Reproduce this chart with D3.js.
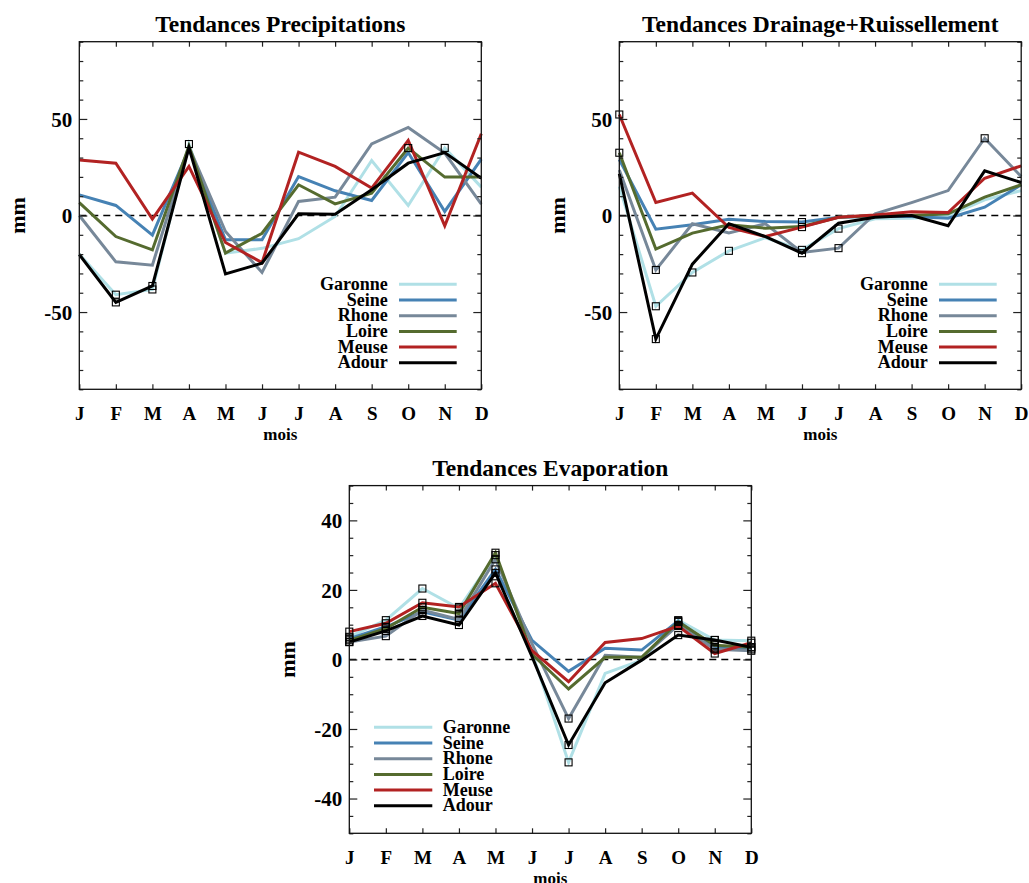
<!DOCTYPE html>
<html><head><meta charset="utf-8">
<script src="https://cdn.jsdelivr.net/npm/d3@7"></script>
<style>
html,body{margin:0;padding:0;background:#fff;}
svg text{font-family:"Liberation Serif","Times New Roman",serif;font-weight:bold;fill:#000;}
</style></head>
<body><svg id="c" width="1029" height="883"></svg>
<script>
const months = ["J","F","M","A","M","J","J","A","S","O","N","D"];
const rivers = ["Garonne","Seine","Rhone","Loire","Meuse","Adour"];
const riverColors = ["#b0e0e6","#4682b4","#778899","#556b2f","#b22222","#000000"];

// Precipitations (mm)
const precipGaronne = [-20, -41, -38.3, 37, -19.5, -17, -12, -0.5, 28.5, 5.2, 35, 14.7];
const precipSeine   = [10.7, 5.2, -10.2, 34.5, -12.6, -12.6, 20.2, 12.8, 7.8, 32.6, 2.1, 29.2];
const precipRhone   = [0, -24, -25.7, 35.5, -8.3, -29.5, 7.3, 9.5, 37.1, 45.6, 32.3, 5.9];
const precipLoire   = [6.7, -10.9, -17.8, 36, -19.5, -9.2, 15.9, 6, 11.6, 34.9, 19.9, 19.9];
const precipMeuse   = [28.8, 27.1, -1.9, 25.4, -14, -24.4, 32.8, 25.4, 14.2, 38.9, -5.4, 42.3];
const precipAdour   = [-20.2, -45, -36.5, 35.2, -30.2, -24.7, 0.9, 0.7, 13.3, 27.1, 32.6, 19.3];
const precipMarks   = [[0,1],[0,2],[0,3],[0,10],[5,1],[5,2],[3,9]];

// Drainage + Ruissellement (mm)
const drainGaronne = [15, -47, -29.5, -18.3, -11.5, -17.8, -6.8, -1.7, -1.4, -0.2, 8.1, 12.9];
const drainSeine   = [29, -7.1, -4.8, -1.9, -3.1, -3.4, -0.9, -0.5, -0.5, -1.4, 4.3, 15.9];
const drainRhone   = [23.6, -28.2, -4.3, -9.1, -4.3, -19.1, -16.9, 0.9, 6.7, 12.9, 40, 20.2];
const drainLoire   = [32.5, -17.4, -9.1, -4.8, -6.6, -5.7, -0.9, 0, 0, 0.9, 9.5, 15.9];
const drainMeuse   = [52.3, 6.7, 11.6, -6.2, -10.9, -6, -0.9, 0.3, 2, 1.5, 19.3, 25.7];
const drainAdour   = [21.6, -64, -25.2, -4.3, -10.9, -19.5, -4, -0.9, 0, -5.3, 23.1, 17.1];
const drainMarks   = [[4,0],[3,0],[2,1],[0,1],[5,1],[0,2],[0,3],[1,5],[4,5],[0,5],[5,5],[0,6],[2,6],[2,10]];

// Evaporation (mm)
const evapGaronne = [6.5, 11.3, 20.4, 14.7, 30, 2, -29.6, -4, -0.2, 11.3, 5.6, 5.4];
const evapSeine   = [6, 9.4, 13.7, 11.3, 25.9, 5.5, -3.4, 3.2, 2.7, 11.1, 3.2, 2.9];
const evapRhone   = [5, 6.7, 14.2, 11.5, 28.8, 4.5, -17, 1.2, 0.6, 9.9, 2.9, 2.5];
const evapLoire   = [5.5, 8.9, 15, 13.2, 30.7, 1.5, -8.5, 0.6, 0.6, 10.8, 4.1, 3.5];
const evapMeuse   = [8, 10.4, 16.3, 15.1, 21.9, 2.5, -6.4, 4.9, 6, 9.6, 1.7, 4.8];
const evapAdour   = [5, 8.2, 12.5, 9.9, 24.9, 0.8, -24.6, -6.7, -0.2, 7, 5.6, 3.5];
const evapMarkMonths = [0,1,2,3,4,9,10,11];
const evapMarksExtra = [[0,6],[2,6],[5,6]];

const titles = ["Tendances Precipitations","Tendances Drainage+Ruissellement","Tendances Evaporation"];
const xLabel = "mois", yLabel = "mm";

const evapMarks = [];
rivers.forEach((r,si)=>evapMarkMonths.forEach(m=>evapMarks.push([si,m])));
evapMarksExtra.forEach(d=>evapMarks.push(d));

const svg = d3.select("#c");
const FONT = '"Liberation Serif","Times New Roman",serif';

function panel(cfg){
  const g = svg.append("g");
  const x = d3.scaleLinear().domain([0,11]).range([cfg.left,cfg.right]);
  const y = d3.scaleLinear().domain(cfg.yDomain).range([cfg.bottom,cfg.top]);
  const majors = cfg.majors;
  const minors = d3.range(cfg.yDomain[0], cfg.yDomain[1]+0.001, cfg.minorStep).filter(v=>!majors.includes(v));

  g.append("line").attr("x1",x(0)).attr("x2",x(11)).attr("y1",y(0)).attr("y2",y(0))
    .attr("stroke","#000").attr("stroke-width",1.5).attr("stroke-dasharray","7,5");

  const line = d3.line().x((d,i)=>x(i)).y(d=>y(d));
  cfg.series.forEach((s,si)=>{
    g.append("path").attr("d",line(s)).attr("fill","none")
      .attr("stroke",riverColors[si]).attr("stroke-width",3).attr("stroke-linejoin","miter");
  });
  cfg.marks.forEach(([si,m])=>{
    const v = cfg.series[si][m];
    g.append("rect").attr("x",x(m)-3.5).attr("y",y(v)-3.5).attr("width",7).attr("height",7)
      .attr("fill","none").attr("stroke","#000").attr("stroke-width",1.1);
  });

  const styleAxis = sel => { sel.select(".domain").remove(); sel.selectAll("line").attr("stroke","#222").attr("stroke-width",1.2); };
  const yl = g.append("g").attr("transform",`translate(${cfg.left},0)`)
    .call(d3.axisLeft(y).tickValues(majors).tickSize(-8).tickPadding(7).tickFormat(d=>String(d)));
  styleAxis(yl);
  yl.selectAll("text").attr("font-family",FONT).attr("font-weight","bold").attr("font-size",21).attr("fill","#000").attr("dy","0.34em");
  const ylm = g.append("g").attr("transform",`translate(${cfg.left},0)`)
    .call(d3.axisLeft(y).tickValues(minors).tickSize(-4).tickFormat(""));
  styleAxis(ylm);
  const yr = g.append("g").attr("transform",`translate(${cfg.right},0)`)
    .call(d3.axisRight(y).tickValues(majors).tickSize(-8).tickFormat(""));
  styleAxis(yr);
  const yrm = g.append("g").attr("transform",`translate(${cfg.right},0)`)
    .call(d3.axisRight(y).tickValues(minors).tickSize(-4).tickFormat(""));
  styleAxis(yrm);
  const xb = g.append("g").attr("transform",`translate(0,${cfg.bottom})`)
    .call(d3.axisBottom(x).tickValues(d3.range(12)).tickSize(-5).tickFormat(i=>months[i]));
  styleAxis(xb);
  xb.selectAll("text").attr("font-family",FONT).attr("font-weight","bold").attr("font-size",19).attr("fill","#000")
    .attr("y",30.5).attr("dy",null);
  const xt = g.append("g").attr("transform",`translate(0,${cfg.top})`)
    .call(d3.axisTop(x).tickValues(d3.range(12)).tickSize(-5).tickFormat(""));
  styleAxis(xt);

  g.append("rect").attr("x",cfg.left).attr("y",cfg.top).attr("width",cfg.right-cfg.left).attr("height",cfg.bottom-cfg.top)
    .attr("fill","none").attr("stroke","#111").attr("stroke-width",1.3);

  const cx = (cfg.left+cfg.right)/2;
  g.append("text").attr("x",cx).attr("y",cfg.top-10).attr("text-anchor","middle").attr("font-size",23.5).text(cfg.title);
  g.append("text").attr("x",cx).attr("y",cfg.bottom+50.5).attr("text-anchor","middle").attr("font-size",17).text(xLabel);
  g.append("text").attr("transform",`translate(${cfg.left-54},${y(0)}) rotate(-90)`).attr("text-anchor","middle").attr("font-size",22).text(yLabel);

  rivers.forEach((r,i)=>{
    const ry = cfg.legY + i*15.7;
    g.append("line").attr("x1",cfg.legLine[0]).attr("x2",cfg.legLine[1]).attr("y1",ry).attr("y2",ry)
      .attr("stroke",riverColors[i]).attr("stroke-width",3);
    g.append("text").attr("x",cfg.legText).attr("y",ry+5.5).attr("text-anchor",cfg.legAnchor)
      .attr("font-size",18).text(r);
  });
}

panel({left:79.3,right:481.3,top:41.7,bottom:389.3,yDomain:[-90,90],majors:[-50,0,50],minorStep:10,
  series:[precipGaronne,precipSeine,precipRhone,precipLoire,precipMeuse,precipAdour],marks:precipMarks,title:titles[0],
  legY:284.3,legLine:[399,456.7],legText:387.7,legAnchor:"end"});
panel({left:619.3,right:1021.2,top:41.7,bottom:389.3,yDomain:[-90,90],majors:[-50,0,50],minorStep:10,
  series:[drainGaronne,drainSeine,drainRhone,drainLoire,drainMeuse,drainAdour],marks:drainMarks,title:titles[1],
  legY:284.3,legLine:[939,996.7],legText:927.7,legAnchor:"end"});
panel({left:349.3,right:751.3,top:485.6,bottom:833.3,yDomain:[-50,50],majors:[-40,-20,0,20,40],minorStep:5,
  series:[evapGaronne,evapSeine,evapRhone,evapLoire,evapMeuse,evapAdour],marks:evapMarks,title:titles[2],
  legY:727.3,legLine:[374,432.3],legText:442.7,legAnchor:"start"});
</script></body></html>
